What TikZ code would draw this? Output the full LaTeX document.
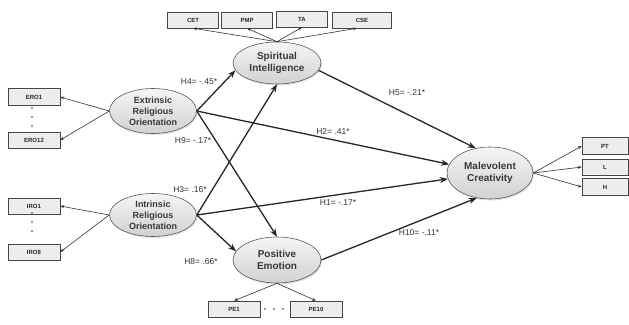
\documentclass[tikz,border=0pt]{standalone}
\usepackage{fontspec}
\setmainfont{Liberation Sans}
\usetikzlibrary{shapes.geometric,arrows.meta,shadows}
\tikzset{
  latent/.style={ellipse, draw=gray!70!black, line width=0.6pt, top color=gray!8, bottom color=gray!36,
    inner sep=0pt, align=center, font=\fontsize{10}{12}\selectfont\bfseries, text=black!78,
    drop shadow={shadow xshift=1pt, shadow yshift=-1.5pt, fill=gray!45}},
  latentsm/.style={latent, font=\fontsize{9}{10.8}\selectfont\bfseries},
  ind/.style={rectangle, draw=gray!55!black, line width=0.5pt, fill=gray!14, minimum height=16pt,
    inner sep=0pt, font=\fontsize{6}{7}\selectfont\bfseries, text=black!85,
    drop shadow={shadow xshift=0.8pt, shadow yshift=-0.8pt, fill=gray!60}},
  struct/.style={-{Stealth[length=8pt,width=6pt]}, line width=1.3pt, draw=black!85},
  load/.style={-{Stealth[length=4pt,width=3pt]}, line width=0.6pt, draw=black!80},
  lab/.style={font=\fontsize{8.5}{10}\selectfont, text=black!80, inner sep=0pt},
  dotmark/.style={fill=black!80}
}
\begin{document}
\begin{tikzpicture}[x=1pt,y=-1pt]
\useasboundingbox (0,0) rectangle (629,324);
\fill[white] (0,0) rectangle (629,324);

% latent variables
\node[latentsm, minimum width=87pt, minimum height=45pt] (ero) at (153,111) {Extrinsic\\Religious\\Orientation};
\node[latentsm, minimum width=87pt, minimum height=43pt] (iro) at (153,215) {Intrinsic\\Religious\\Orientation};
\node[latent, minimum width=88pt, minimum height=42pt] (si) at (277,63) {Spiritual\\Intelligence};
\node[latent, minimum width=88pt, minimum height=46pt] (pe) at (277,260) {Positive\\Emotion};
\node[latent, minimum width=86pt, minimum height=52pt] (mc) at (490,173) {Malevolent\\Creativity};

% indicators
\node[ind, minimum width=52pt, minimum height=17pt] (ero1) at (34,97) {ERO1};
\node[ind, minimum width=52pt, minimum height=16pt] (ero12) at (34,140) {ERO12};
\node[ind, minimum width=52pt, minimum height=16pt] (iro1) at (34,206) {IRO1};
\node[ind, minimum width=52pt, minimum height=16pt] (iro8) at (34,252) {IRO8};
\node[ind, minimum width=51pt] (cet) at (193,20) {CET};
\node[ind, minimum width=51pt] (pmp) at (247,20) {PMP};
\node[ind, minimum width=51pt] (ta) at (302,19) {TA};
\node[ind, minimum width=59pt] (cse) at (362,20) {CSE};
\node[ind, minimum width=52pt] (pe1) at (234,309) {PE1};
\node[ind, minimum width=52pt] (pe10) at (316,309) {PE10};
\node[ind, minimum width=46pt, minimum height=17pt] (pt) at (605,146) {PT};
\node[ind, minimum width=46pt, minimum height=16pt] (l) at (605,167) {L};
\node[ind, minimum width=46pt, minimum height=17pt] (h) at (605,187) {H};

% dots
\foreach \yy in {108,117,126} \fill[dotmark] (32,\yy) circle (0.9pt);
\foreach \yy in {213,222,231} \fill[dotmark] (32,\yy) circle (0.9pt);
\foreach \xx in {265,274,283} \fill[dotmark] (\xx,309) circle (0.9pt);

% loadings
\draw[load] (ero.west) -- (ero1.east);
\draw[load] (ero.west) -- (ero12.east);
\draw[load] (iro.west) -- (iro1.east);
\draw[load] (iro.west) -- (iro8.east);
\draw[load] (si.north) -- (cet.south);
\draw[load] (si.north) -- (pmp.south);
\draw[load] (si.north) -- (ta.south);
\draw[load] (si.north) -- ([xshift=-5pt]cse.south);
\draw[load] (pe.south) -- (pe1.north);
\draw[load] (pe.south) -- (pe10.north);
\draw[load] (mc.east) -- (pt.west);
\draw[load] (mc.east) -- (l.west);
\draw[load] (mc.east) -- (h.west);

% structural paths
\draw[struct] (ero.east) -- (si.190);
\draw[struct] (ero.east) -- (mc.168);
\draw[struct] (ero.east) -- (pe.north);
\draw[struct] (iro.east) -- (si.south);
\draw[struct] (iro.east) -- (mc.188);
\draw[struct] (iro.east) -- (pe.168);
\draw[struct] (si.350) -- (mc.120);
\draw[struct] (pe.east) -- (mc.242);

% path labels
\node[lab] (l4) at (199,82) {H4= -.45*};
\node[lab] (l9) at (193,141) {H9= -.17*};
\node[lab] (l3) at (190,190) {H3= .16*};
\node[lab] (l8) at (201,262) {H8= .66*};
\node[lab] (l2) at (333,132) {H2= .41*};
\node[lab] (l1) at (338,203) {H1= -.17*};
\node[lab] (l5) at (407,93) {H5= -.21*};
\node[lab] (l10) at (419,233) {H10= -.11*};
\end{tikzpicture}
\end{document}
